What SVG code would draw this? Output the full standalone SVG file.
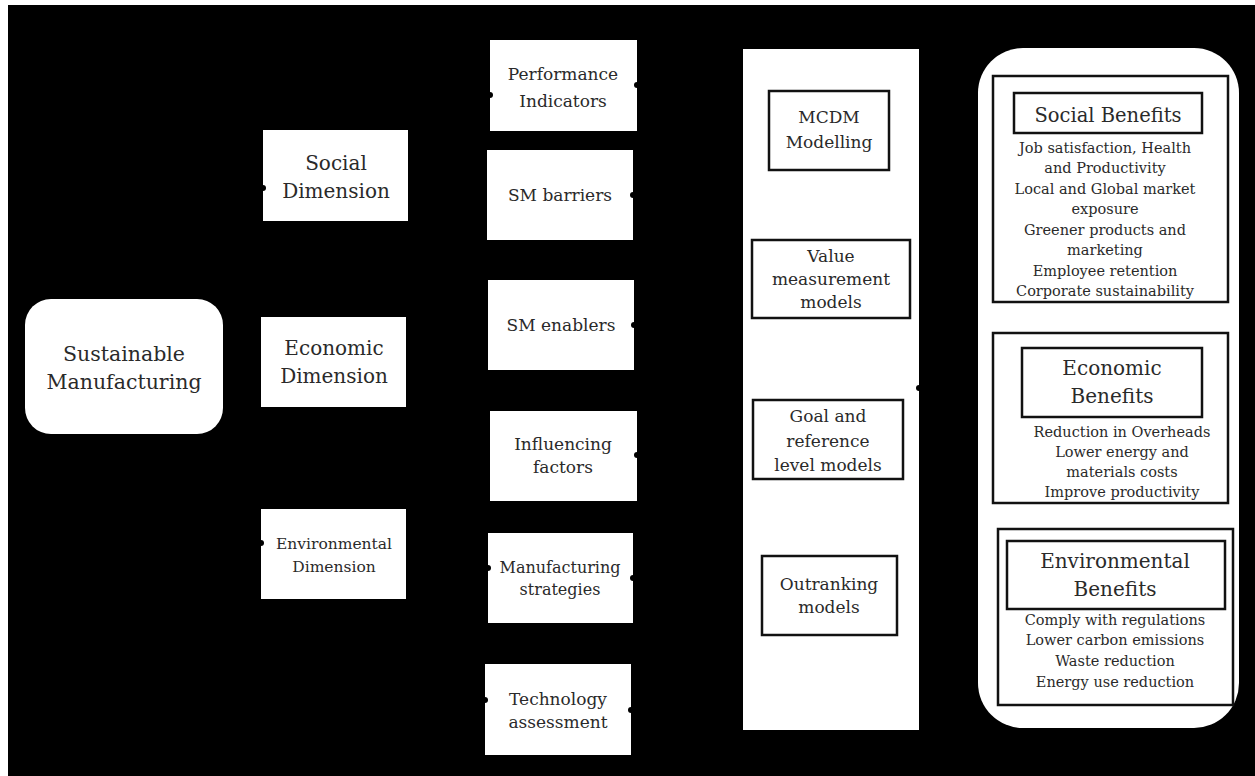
<svg xmlns="http://www.w3.org/2000/svg" width="1255" height="776" viewBox="0 0 1255 776">
<style>
.box{fill:#fff;stroke:none}
.ibox{fill:#fff;stroke:#111;stroke-width:2.5}
.t{font-family:"DejaVu Serif","Liberation Serif",serif;fill:#2a2a2a;text-anchor:middle}
.conn{stroke:#000;stroke-width:1.5;fill:none;marker-end:url(#dot)}
</style>
<defs>
<marker id="dot" viewBox="0 0 6 6" refX="3" refY="3" markerWidth="6" markerHeight="6" markerUnits="userSpaceOnUse"><circle cx="3" cy="3" r="3" fill="#000"/></marker>
</defs>
<rect x="0" y="0" width="1255" height="776" fill="#fff"/>
<rect x="8" y="5" width="1247" height="771" fill="#000"/>

<g id="sm">
<rect class="box" x="25" y="299" width="198" height="135" rx="26"/>
<text class="t" x="124" y="361" font-size="20.5">Sustainable</text>
<text class="t" x="124" y="389" font-size="20.5">Manufacturing</text>
</g>

<g id="social-dim">
<rect class="box" x="263" y="130" width="145" height="91"/>
<text class="t" x="336" y="170" font-size="20">Social</text>
<text class="t" x="336" y="198" font-size="20">Dimension</text>
</g>
<g id="economic-dim">
<rect class="box" x="261" y="317" width="145" height="90"/>
<text class="t" x="334" y="355" font-size="20">Economic</text>
<text class="t" x="334" y="383" font-size="20">Dimension</text>
</g>
<g id="environmental-dim">
<rect class="box" x="261" y="509" width="145" height="90"/>
<text class="t" x="334" y="549" font-size="15.5">Environmental</text>
<text class="t" x="334" y="572" font-size="15.5">Dimension</text>
</g>

<g id="perf">
<rect class="box" x="490" y="40" width="147" height="91"/>
<text class="t" x="563" y="80" font-size="17">Performance</text>
<text class="t" x="563" y="107" font-size="17">Indicators</text>
</g>
<g id="barriers">
<rect class="box" x="487" y="150" width="146" height="90"/>
<text class="t" x="560" y="201" font-size="17">SM barriers</text>
</g>
<g id="enablers">
<rect class="box" x="488" y="280" width="146" height="90"/>
<text class="t" x="561" y="331" font-size="17">SM enablers</text>
</g>
<g id="influencing">
<rect class="box" x="490" y="411" width="147" height="90"/>
<text class="t" x="563" y="450" font-size="17">Influencing</text>
<text class="t" x="563" y="473" font-size="17">factors</text>
</g>
<g id="strategies">
<rect class="box" x="488" y="533" width="145" height="90"/>
<text class="t" x="560" y="573" font-size="16">Manufacturing</text>
<text class="t" x="560" y="595" font-size="16">strategies</text>
</g>
<g id="technology">
<rect class="box" x="485" y="664" width="146" height="91"/>
<text class="t" x="558" y="705" font-size="17">Technology</text>
<text class="t" x="558" y="728" font-size="17">assessment</text>
</g>

<g id="models">
<rect class="box" x="743" y="49" width="176" height="681"/>
<g id="mcdm">
<rect class="ibox" x="769" y="91" width="120" height="79"/>
<text class="t" x="829" y="123" font-size="17">MCDM</text>
<text class="t" x="829" y="148" font-size="17">Modelling</text>
</g>
<g id="value">
<rect class="ibox" x="752" y="240" width="158" height="78"/>
<text class="t" x="831" y="262" font-size="17">Value</text>
<text class="t" x="831" y="285" font-size="17">measurement</text>
<text class="t" x="831" y="308" font-size="17">models</text>
</g>
<g id="goal">
<rect class="ibox" x="753" y="400" width="150" height="79"/>
<text class="t" x="828" y="422" font-size="17">Goal and</text>
<text class="t" x="828" y="447" font-size="17">reference</text>
<text class="t" x="828" y="471" font-size="17">level models</text>
</g>
<g id="outranking">
<rect class="ibox" x="762" y="556" width="135" height="79"/>
<text class="t" x="829" y="590" font-size="17">Outranking</text>
<text class="t" x="829" y="613" font-size="17">models</text>
</g>
</g>

<g id="benefits">
<rect class="box" x="978" y="48" width="261" height="680" rx="45"/>
<g id="social-benefits">
<rect class="ibox" x="993" y="76" width="235" height="226"/>
<rect class="ibox" x="1014" y="93" width="188" height="40"/>
<text class="t" x="1108" y="122" font-size="19.5">Social Benefits</text>
<text class="t" x="1105" y="153" font-size="14.5">Job satisfaction, Health</text>
<text class="t" x="1105" y="173" font-size="14.5">and Productivity</text>
<text class="t" x="1105" y="194" font-size="14.5">Local and Global market</text>
<text class="t" x="1105" y="214" font-size="14.5">exposure</text>
<text class="t" x="1105" y="235" font-size="14.5">Greener products and</text>
<text class="t" x="1105" y="255" font-size="14.5">marketing</text>
<text class="t" x="1105" y="276" font-size="14.5">Employee retention</text>
<text class="t" x="1105" y="296" font-size="14.5">Corporate sustainability</text>
</g>
<g id="economic-benefits">
<rect class="ibox" x="993" y="333" width="235" height="170"/>
<rect class="ibox" x="1022" y="348" width="180" height="69"/>
<text class="t" x="1112" y="375" font-size="20">Economic</text>
<text class="t" x="1112" y="403" font-size="20">Benefits</text>
<text class="t" x="1122" y="437" font-size="14.5">Reduction in Overheads</text>
<text class="t" x="1122" y="457" font-size="14.5">Lower energy and</text>
<text class="t" x="1122" y="477" font-size="14.5">materials costs</text>
<text class="t" x="1122" y="497" font-size="14.5">Improve productivity</text>
</g>
<g id="environmental-benefits">
<rect class="ibox" x="998" y="529" width="235" height="176"/>
<rect class="ibox" x="1007" y="541" width="218" height="68"/>
<text class="t" x="1115" y="568" font-size="20">Environmental</text>
<text class="t" x="1115" y="596" font-size="20">Benefits</text>
<text class="t" x="1115" y="625" font-size="14.5">Comply with regulations</text>
<text class="t" x="1115" y="645" font-size="14.5">Lower carbon emissions</text>
<text class="t" x="1115" y="666" font-size="14.5">Waste reduction</text>
<text class="t" x="1115" y="687" font-size="14.5">Energy use reduction</text>
</g>
</g>

<g id="connectors">
<path class="conn" d="M223 366 L240 366 L240 188 L263 188"/>
<path class="conn" d="M223 366 L240 366 L240 543 L261 543"/>
<path class="conn" d="M408 175 L450 175 L450 95 L490 95"/>
<path class="conn" d="M406 361 L450 361 L450 568 L488 568"/>
<path class="conn" d="M406 553 L450 553 L450 700 L485 700"/>
<path class="conn" d="M743 85 L637 85"/>
<path class="conn" d="M743 195 L633 195"/>
<path class="conn" d="M743 325 L634 325"/>
<path class="conn" d="M743 455 L637 455"/>
<path class="conn" d="M743 578 L633 578"/>
<path class="conn" d="M743 710 L631 710"/>
<path class="conn" d="M978 388 L919 388"/>
</g>
</svg>
